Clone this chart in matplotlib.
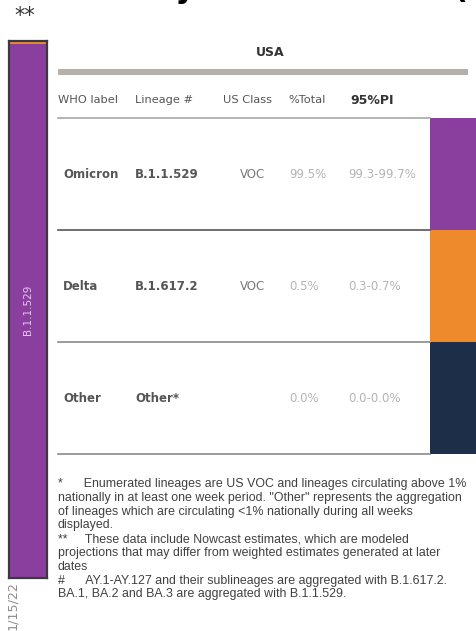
import numpy as np
import matplotlib.pyplot as plt
from matplotlib.patches import Rectangle

# data
who_labels = ["Omicron", "Delta", "Other"]
lineages = ["B.1.1.529", "B.1.617.2", "Other*"]
us_class = ["VOC", "VOC", ""]
pct_total = [99.5, 0.5, 0.0]
pi_low = [99.3, 0.3, 0.0]
pi_high = [99.7, 0.7, 0.0]
colors = ["#8a3f9f", "#ee8a2c", "#1c2e48"]
headers = ["WHO label", "Lineage #", "US Class", "%Total", "95%PI"]
week_label = "1/15/22"

footnotes = [
    "*      Enumerated lineages are US VOC and lineages circulating above 1%",
    "nationally in at least one week period. \"Other\" represents the aggregation",
    "of lineages which are circulating <1% nationally during all weeks",
    "displayed.",
    "**     These data include Nowcast estimates, which are modeled",
    "projections that may differ from weighted estimates generated at later",
    "dates",
    "#      AY.1-AY.127 and their sublineages are aggregated with B.1.617.2.",
    "BA.1, BA.2 and BA.3 are aggregated with B.1.1.529.",
]

W, H = 477, 631
fig = plt.figure(figsize=(W / 100, H / 100), dpi=100)
ax = fig.add_axes([0, 0, 1, 1])
ax.set_xlim(0, W)
ax.set_ylim(H, 0)
ax.axis("off")

# cut-off title at the top
ax.text(468, -1.5, "Estimated Weekly Nowcast Data (", fontsize=22,
        fontweight="bold", color="black", va="baseline", ha="right", clip_on=False)
ax.text(14, 16, "**", fontsize=15, color="#333333", va="center", ha="left")

# stacked bar for the week
bx = fig.add_axes([9 / W, 1 - 578 / H, 38 / W, (578 - 41) / H])
bottom = 0
for val, c in zip(pct_total, colors):
    bx.bar(0, val, bottom=bottom, width=1, color=c)
    bottom += val
bx.set_xlim(-0.5, 0.5)
bx.set_ylim(0, 100)
bx.set_xticks([])
bx.set_yticks([])
for s in bx.spines.values():
    s.set_color("#3a3a3a")
    s.set_linewidth(1.6)
bx.text(0, 50, lineages[0], rotation=90, color="#e4c8ec", fontsize=7.5,
        ha="center", va="center", family="DejaVu Sans")
ax.text(13, 606, week_label, rotation=90, color="#8c8c8c", fontsize=9.2,
        ha="center", va="center")

# table header
ax.text(270, 52, "USA", fontsize=9, fontweight="bold", color="#333333",
        ha="center", va="center", family="DejaVu Sans")
ax.add_patch(Rectangle((58, 68.5), 410, 6.5, color="#b6b0ad", lw=0))
hx = [58, 135, 223, 288, 350]
for i, (x, h) in enumerate(zip(hx, headers)):
    if i == 4:
        ax.text(x, 100, h, fontsize=9, fontweight="bold", color="#333333",
                ha="left", va="center", family="DejaVu Sans")
    else:
        ax.text(x, 100, h, fontsize=8.2, color="#555555", ha="left", va="center",
                family="DejaVu Sans")
ax.plot([58, 430], [117.5, 117.5], color="#a8a8a8", lw=1.2)

# rows
row_top = 117.5
row_h = 112
for i in range(len(who_labels)):
    y0 = row_top + i * row_h
    yc = y0 + row_h / 2 + 1
    ax.text(63, yc, who_labels[i], fontsize=8.5, color="#555555",
            fontweight="semibold", ha="left", va="center")
    ax.text(135, yc, lineages[i], fontsize=8.5, color="#555555",
            fontweight="semibold", ha="left", va="center")
    ax.text(240, yc, us_class[i], fontsize=8.5, color="#777777",
            ha="left", va="center")
    ax.text(289, yc, f"{pct_total[i]:.1f}%", fontsize=8.5, color="#b4b4b4",
            ha="left", va="center")
    ax.text(348, yc, f"{pi_low[i]:.1f}-{pi_high[i]:.1f}%", fontsize=8.5,
            color="#b4b4b4", ha="left", va="center")
    ax.add_patch(Rectangle((430, y0), W - 430, row_h, color=colors[i], lw=0))
    lc = "#555555" if i == 0 else "#8a8a8a"
    ax.plot([58, 430], [y0 + row_h, y0 + row_h], color=lc, lw=1.2)

# footnotes
for j, line in enumerate(footnotes):
    ax.text(58, 484 + j * 13.8, line, fontsize=8.9, color="#404040",
            family="Liberation Sans", ha="left", va="center")

plt.savefig("out.png", dpi=100)
